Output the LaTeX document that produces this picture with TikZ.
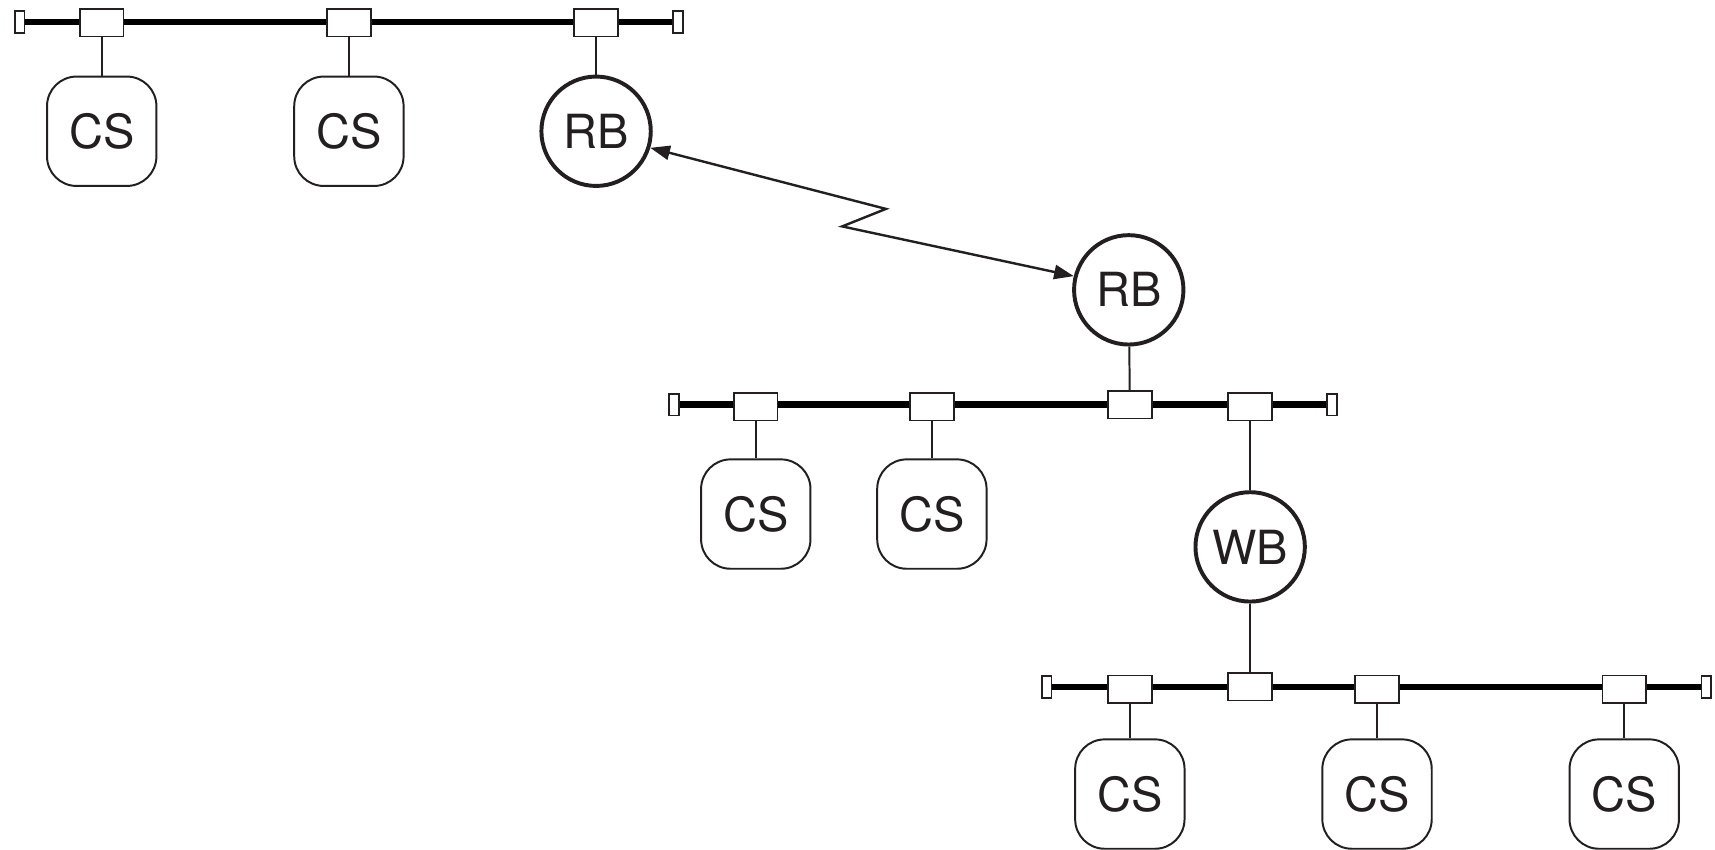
\documentclass[tikz,border=0pt]{standalone}
\usepackage{fontspec}
\setmainfont{TeX Gyre Heros}
\usepackage{xcolor}
\usetikzlibrary{arrows.meta,backgrounds}
\definecolor{ink}{HTML}{231F20}

\begin{document}
\begin{tikzpicture}[x=1pt,y=-1pt,ink,
  tap/.style={draw, fill=white, rectangle, inner sep=0pt, minimum width=40pt, minimum height=25pt, line width=1.5pt},
  term/.style={draw, fill=white, rectangle, inner sep=0pt, minimum width=9pt, minimum height=20pt, line width=1.5pt},
  station/.style={draw, fill=white, rectangle, rounded corners=27pt, inner sep=0pt, minimum size=100pt, line width=1.8pt, font=\fontsize{43}{48}\selectfont},
  bridge/.style={draw, fill=white, circle, inner sep=0pt, minimum size=100pt, line width=3.6pt, font=\fontsize{43}{48}\selectfont},
  bus/.style={line width=6pt},
  stub/.style={line width=1.8pt},
  link/.style={line width=2.2pt, {Triangle[length=18pt,width=13pt]}-{Triangle[length=18pt,width=13pt]}}]

\useasboundingbox (0,0) rectangle (1568,777);

% =====================
% Top LAN (left network)
% =====================
\node[term] (TermA1) at (18,20) {};
\node[term] (TermA2) at (620,20) {};
\node[tap] (TapA1) at (93,21) {};
\node[tap] (TapA2) at (319,21) {};
\node[tap] (TapA3) at (545,21) {};

\node[station] (CSa1) at (93,120) {CS};
\node[station] (CSa2) at (319,120) {CS};
\node[bridge] (RBtop) at (545,120) {RB};

\draw[stub] (TapA1) -- (CSa1);
\draw[stub] (TapA2) -- (CSa2);
\draw[stub] (TapA3) -- (RBtop);

% =====================
% Middle LAN
% =====================
\node[bridge] (RBmid) at (1032,265) {RB};

\node[term] (TermB1) at (616,370) {};
\node[term] (TermB2) at (1218,370) {};
\node[tap] (TapB1) at (691,372) {};
\node[tap] (TapB2) at (852,372) {};
\node[tap] (TapB3) at (1033,370) {};
\node[tap] (TapB4) at (1143,372) {};

\node[station] (CSb1) at (691,470) {CS};
\node[station] (CSb2) at (852,470) {CS};
\node[bridge] (WB) at (1143,500) {WB};

\draw[stub] (TapB1) -- (CSb1);
\draw[stub] (TapB2) -- (CSb2);
\draw[stub] (RBmid) -- (TapB3);
\draw[stub] (TapB4) -- (WB);

% =====================
% Bottom LAN
% =====================
\node[term] (TermC1) at (957,628) {};
\node[term] (TermC2) at (1560,628) {};
\node[tap] (TapC1) at (1033,630) {};
\node[tap] (TapC2) at (1143,628) {};
\node[tap] (TapC3) at (1259,630) {};
\node[tap] (TapC4) at (1485,630) {};

\node[station] (CSc1) at (1033,726) {CS};
\node[station] (CSc2) at (1259,726) {CS};
\node[station] (CSc3) at (1485,726) {CS};

\draw[stub] (TapC1) -- (CSc1);
\draw[stub] (WB) -- (TapC2);
\draw[stub] (TapC3) -- (CSc2);
\draw[stub] (TapC4) -- (CSc3);

% =====================
% Bus cables (behind the taps)
% =====================
\begin{scope}[on background layer]
\draw[bus] (TermA1) -- (TermA2);
\draw[bus] (TermB1) -- (TermB2);
\draw[bus] (TermC1) -- (TermC2);
\end{scope}

% =====================
% Remote link between the two remote bridges
% =====================
\coordinate (ZigA) at (810,191);
\coordinate (ZigB) at (770,207);
\draw[link] (RBtop.-17) -- (ZigA) -- (ZigB) -- (RBmid.166);

\end{tikzpicture}
\end{document}
